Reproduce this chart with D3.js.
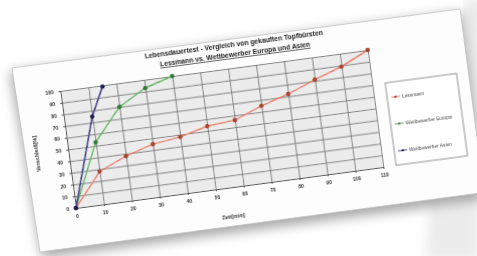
<!DOCTYPE html>
<html>
<head>
<meta charset="utf-8">
<script src="https://cdn.jsdelivr.net/npm/d3@7"></script>
<style>
  body { margin: 0; background: #fff; }
  svg { display: block; font-family: "Liberation Sans", Arial, sans-serif; }
</style>
</head>
<body>
<svg id="chart" width="477" height="256"></svg>
<script>
const titleLines = ["Lebensdauertest - Vergleich von gekauften Topfbürsten", "Lessmann vs. Wettbewerber Europa und Asien"];
const seriesNames = ["Lessmann", "Wettbewerber Europa", "Wettbewerber Asien"];
const lessmannTime = [0, 10, 20, 30, 40, 50, 60, 70, 80, 90, 100, 110];
const lessmannWear = [0, 28, 38, 45, 48, 54, 56, 65, 72, 81, 89, 100];
const europaTime = [0, 10, 20, 30, 40];
const europaWear = [0, 53, 80, 93, 100];
const asienTime = [0, 10, 15];
const asienWear = [0, 75, 99];
const xTickValues = [0, 10, 20, 30, 40, 50, 60, 70, 80, 90, 100, 110];
const yTickValues = [0, 10, 20, 30, 40, 50, 60, 70, 80, 90, 100];
const xLabel = "Zeit[min]";
const yLabel = "Verschleiß[%]";

const lineColors = ["#ec7c66", "#62b862", "#3f3f8e"];
const markColors = ["#a8442e", "#2f7a33", "#1e1e55"];

const W = 310, H = 118;

const svg = d3.select("#chart");
const defs = svg.append("defs");
defs.append("filter").attr("id", "soft")
  .append("feGaussianBlur").attr("stdDeviation", 0.7);
defs.append("filter").attr("id", "shadow").attr("x", "-20%").attr("y", "-20%").attr("width", "140%").attr("height", "140%")
  .append("feGaussianBlur").attr("stdDeviation", 6);

// sheet behind + paper with shadow
svg.append("polygon")
  .attr("points", "430,196 480,190 480,260 425,260")
  .style("fill", "#ececec")
  .attr("filter", "url(#shadow)");
svg.append("polygon")
  .attr("points", "466,0 480,0 480,180 474,180")
  .style("fill", "#e4e4e4")
  .attr("filter", "url(#shadow)");
svg.append("polygon")
  .attr("points", "10,72 462,12 482,170 482,200 42,258")
  .style("fill", "#a8a8a8")
  .attr("filter", "url(#shadow)");
svg.append("polygon")
  .attr("points", "12,68 460,9 480,160 480,193 40,252")
  .style("fill", "#fdfdfd")
  .style("stroke", "#bdbdbd")
  .style("stroke-width", 0.7);

// chart, rotated like the photographed sheet
const g = svg.append("g")
  .attr("id", "g-area")
  .attr("filter", "url(#soft)")
  .attr("transform", "translate(76,208) rotate(-7.6)");

const plot = g.append("g").attr("transform", `translate(0,${-H})`);

const x = d3.scaleLinear().domain([0, 110]).range([0, W]);
const y = d3.scaleLinear().domain([0, 100]).range([H, 0]);

plot.append("rect")
  .attr("width", W)
  .attr("height", H)
  .style("fill", "#ececec");

plot.append("g")
  .attr("class", "grid-y")
  .call(d3.axisLeft(y).tickValues(yTickValues).tickSize(-W).tickFormat(""))
  .call(a => a.select(".domain").remove())
  .call(a => a.selectAll("line").style("stroke", "#767676").style("stroke-width", 0.9));

plot.append("g")
  .attr("class", "grid-x")
  .attr("transform", `translate(0,${H})`)
  .call(d3.axisBottom(x).tickValues(xTickValues).tickSize(-H).tickFormat(""))
  .call(a => a.select(".domain").remove())
  .call(a => a.selectAll("line").style("stroke", "#767676").style("stroke-width", 0.9));

plot.append("g")
  .attr("transform", `translate(0,${H})`)
  .call(d3.axisBottom(x).tickValues(xTickValues).tickSize(2).tickPadding(4))
  .call(a => a.select(".domain").style("stroke", "#555"))
  .call(a => a.selectAll("line").style("stroke", "#555"))
  .call(a => a.selectAll("text").style("font-size", "5px").style("fill", "#333").style("font-weight", "bold"));

plot.append("g")
  .call(d3.axisLeft(y).tickValues(yTickValues).tickSize(2).tickPadding(5))
  .call(a => a.select(".domain").style("stroke", "#555"))
  .call(a => a.selectAll("line").style("stroke", "#555"))
  .call(a => a.selectAll("text").style("font-size", "5px").style("fill", "#333").style("font-weight", "bold"));

const series = [
  { name: seriesNames[0], time: lessmannTime, wear: lessmannWear },
  { name: seriesNames[1], time: europaTime, wear: europaWear },
  { name: seriesNames[2], time: asienTime, wear: asienWear },
];

const line = d3.line().x(d => x(d[0])).y(d => y(d[1]));

series.forEach((s, i) => {
  const pts = s.time.map((t, k) => [t, s.wear[k]]);
  plot.append("path")
    .datum(pts)
    .attr("d", line)
    .style("fill", "none")
    .style("stroke", lineColors[i])
    .style("stroke-width", i === 2 ? 1.7 : 1.4);
  plot.selectAll(null)
    .data(pts)
    .enter().append("circle")
    .attr("cx", d => x(d[0]))
    .attr("cy", d => y(d[1]))
    .attr("r", 2.3)
    .style("fill", markColors[i]);
});

// titles
const title = g.append("g").attr("transform", "translate(178,0)");
title.append("text")
  .attr("y", -139)
  .attr("text-anchor", "middle")
  .style("font-size", "6.8px")
  .style("font-weight", "bold")
  .style("fill", "#222")
  .text(titleLines[0]);
title.append("text")
  .attr("y", -129)
  .attr("text-anchor", "middle")
  .style("font-size", "6.8px")
  .style("font-weight", "bold")
  .style("text-decoration", "underline")
  .style("fill", "#222")
  .text(titleLines[1]);

g.append("text")
  .attr("transform", `translate(${W / 2},31)`)
  .attr("text-anchor", "middle")
  .style("font-size", "5.5px")
  .style("font-weight", "bold")
  .style("fill", "#333")
  .text(xLabel);

g.append("text")
  .attr("transform", `translate(-30,${-H / 2}) rotate(-90)`)
  .attr("text-anchor", "middle")
  .style("font-size", "5.5px")
  .style("font-weight", "bold")
  .style("fill", "#333")
  .text(yLabel);

// legend
const legend = g.append("g").attr("transform", "translate(323,-83)");
legend.append("rect")
  .attr("width", 72)
  .attr("height", 83)
  .style("fill", "#fff")
  .style("stroke", "#777")
  .style("stroke-width", 0.8);

const entry = legend.selectAll(".entry")
  .data(series)
  .enter().append("g")
  .attr("class", "entry")
  .attr("transform", (d, i) => `translate(4,${15 + i * 27})`);
entry.append("line")
  .attr("x1", 0).attr("x2", 9)
  .style("stroke", (d, i) => lineColors[i])
  .style("stroke-width", 1);
entry.append("circle")
  .attr("cx", 4.5).attr("r", 1.3)
  .style("fill", (d, i) => markColors[i]);
entry.append("text")
  .attr("x", 11)
  .attr("dy", "0.35em")
  .style("font-size", "4.8px")
  .style("fill", "#444")
  .text(d => d.name);
</script>
</body>
</html>
